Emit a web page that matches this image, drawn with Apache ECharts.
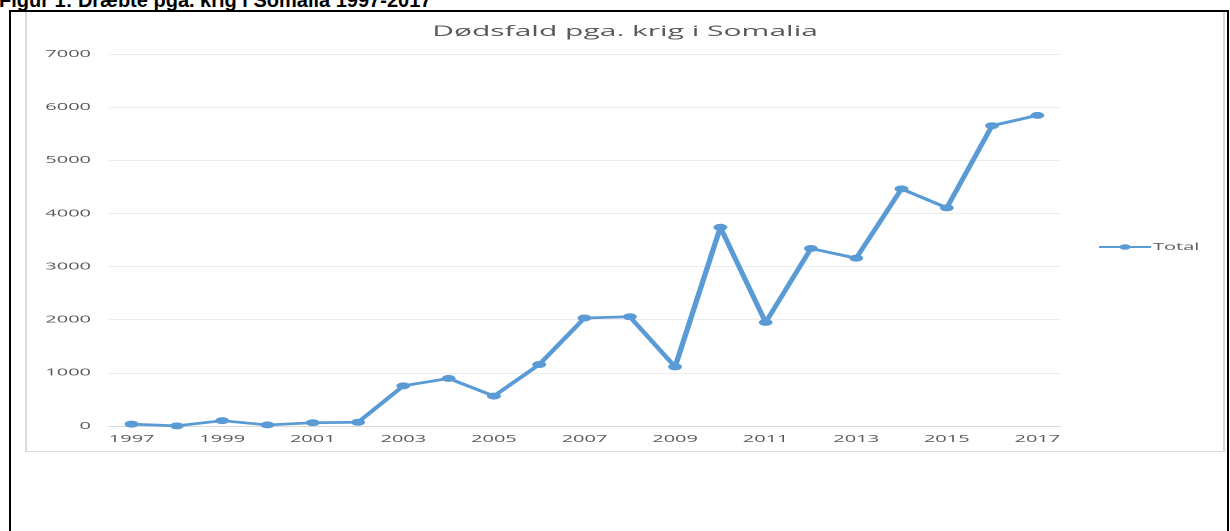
<!DOCTYPE html>
<html>
<head>
<meta charset="utf-8">
<script src="https://cdn.jsdelivr.net/npm/echarts@6/dist/echarts.min.js"></script>
<style>
  html, body { margin: 0; padding: 0; background: #fff; overflow: hidden; }
  body { width: 1230px; height: 531px; position: relative; }
  #caption {
    position: absolute; left: -1px; top: -10px;
    font: bold 20px "Liberation Sans", Arial, sans-serif;
    line-height: 20px; color: #000; white-space: nowrap;
  }
  #frame {
    position: absolute; left: 9px; top: 10px; width: 1220px; height: 600px;
    border: 2px solid #000; box-sizing: border-box;
  }
  /* the Excel chart in the reference is stretched sideways, so draw it at half width and scale it */
  #wrap {
    position: absolute; left: 25px; top: 12px; width: 600px; height: 440px;
    transform: scaleX(2); transform-origin: 0 0;
  }
  #chart { position: absolute; left: 0; top: 0; width: 600px; height: 440px; }
  #box {
    position: absolute; left: 0; top: 0; width: 600px; height: 440px;
    border: 1px solid #d9d9d9; border-top: none; box-sizing: border-box; pointer-events: none;
  }
</style>
</head>
<body>
<div id="caption">Figur 1: Dræbte pga. krig i Somalia 1997-2017</div>
<div id="frame"></div>
<div id="wrap">
  <div id="chart"></div>
  <div id="box"></div>
</div>
<script>
// år
const years = ['1997','1998','1999','2000','2001','2002','2003','2004','2005','2006','2007',
  '2008','2009','2010','2011','2012','2013','2014','2015','2016','2017'];
// dødsfald i alt
const total = [35, 3, 100, 20, 62, 70, 756, 895, 563, 1157, 2032,
  2056, 1113, 3739, 1949, 3340, 3158, 4462, 4105, 5651, 5844];
const yTicks = { min: 0, max: 7000, step: 1000 };

const font = '"Open Sans", sans-serif';
const grey = '#595959';
const blue = '#5B9BD5';

const myChart = echarts.init(document.getElementById('chart'), null, { devicePixelRatio: 2 });

const option = {
  animation: false,
  title: {
    text: 'Dødsfald pga. krig i Somalia',
    left: 'center',
    top: 12,
    padding: 0,
    textStyle: { fontFamily: font, fontSize: 15, fontWeight: 'normal', color: grey }
  },
  legend: {
    data: ['Total'],
    orient: 'vertical',
    left: 536,
    top: 230,
    padding: 0,
    itemWidth: 26,
    itemHeight: 7,
    itemGap: 4,
    textStyle: { fontFamily: font, fontSize: 10, color: grey, padding: [0, 0, 0, -4] }
  },
  grid: { left: 42, right: 82.5, top: 42, bottom: 26 },
  xAxis: {
    type: 'category',
    data: years,
    boundaryGap: true,
    axisLine: { lineStyle: { color: '#d9d9d9', width: 1 } },
    axisTick: { show: false },
    axisLabel: { interval: 1, margin: 8, fontFamily: font, fontSize: 10, color: grey }
  },
  yAxis: {
    type: 'value',
    min: yTicks.min,
    max: yTicks.max,
    interval: yTicks.step,
    axisLine: { show: false },
    axisTick: { show: false },
    splitLine: { lineStyle: { color: '#ececec', width: 1 } },
    axisLabel: {
      margin: 9, fontFamily: font, fontSize: 10, color: grey,
      formatter: (v) => String(v)
    }
  },
  series: [
    {
      name: 'Total',
      type: 'line',
      data: total,
      symbol: 'circle',
      symbolSize: 7,
      showSymbol: true,
      itemStyle: { color: blue },
      lineStyle: { color: blue, width: 2.75 }
    }
  ]
};

myChart.setOption(option);
</script>
</body>
</html>
